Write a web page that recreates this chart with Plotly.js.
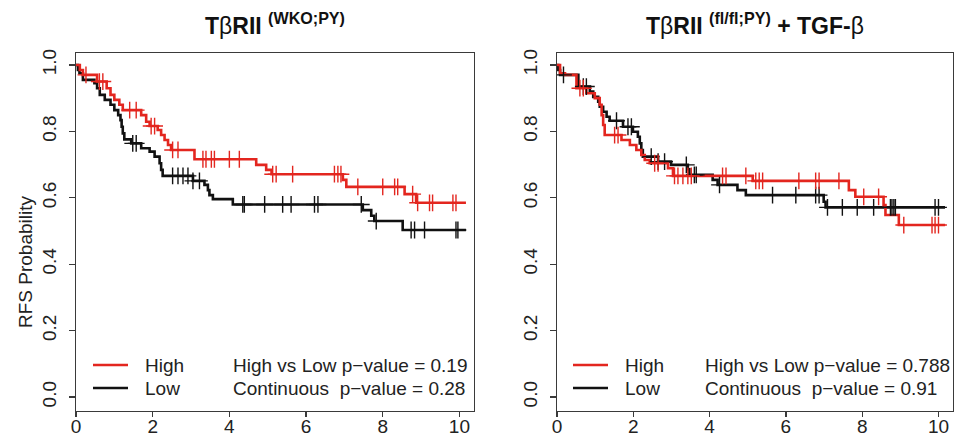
<!DOCTYPE html>
<html>
<head>
<meta charset="utf-8">
<script src="https://cdn.plot.ly/plotly-3.0.1.min.js"></script>
<style>html,body{margin:0;padding:0;background:#fff;}#chart{width:956px;height:440px;}</style>
</head>
<body>
<div id="chart"></div>
<script>
// ---------- DATA ----------
// Panel A: TβRII (WKO;PY)
const highTimeA  = [0, 0.10, 0.18, 0.55, 0.80, 0.90, 1.00, 1.13, 1.22, 1.70, 1.83, 1.92, 2.13, 2.22, 2.31, 2.40, 2.48, 3.09, 4.70, 4.96, 5.10, 6.96, 7.05, 8.57, 8.87, 10.17];
const highSurvA  = [1.0, 0.985, 0.970, 0.950, 0.930, 0.910, 0.895, 0.880, 0.864, 0.849, 0.829, 0.816, 0.804, 0.789, 0.774, 0.759, 0.744, 0.716, 0.699, 0.684, 0.671, 0.654, 0.633, 0.611, 0.585, 0.585];
const highCensA  = [0.26, 0.61, 0.70, 1.40, 1.57, 1.96, 2.05, 2.52, 2.66, 3.31, 3.39, 3.53, 3.61, 4.00, 4.26, 5.13, 5.22, 5.65, 6.74, 6.83, 6.91, 7.35, 8.00, 8.31, 8.39, 8.78, 8.91, 9.22, 9.30, 9.83, 9.91];
const lowTimeA   = [0, 0.05, 0.09, 0.18, 0.48, 0.55, 0.62, 0.75, 0.90, 1.00, 1.10, 1.16, 1.19, 1.22, 1.26, 1.44, 1.70, 1.92, 2.05, 2.18, 2.22, 2.26, 3.05, 3.35, 3.44, 3.48, 3.57, 4.09, 7.48, 7.70, 7.78, 8.52, 10.17];
const lowSurvA   = [1.0, 0.985, 0.975, 0.955, 0.945, 0.930, 0.910, 0.895, 0.880, 0.864, 0.849, 0.834, 0.814, 0.794, 0.776, 0.764, 0.749, 0.739, 0.724, 0.704, 0.684, 0.666, 0.651, 0.639, 0.623, 0.608, 0.596, 0.580, 0.563, 0.546, 0.530, 0.503, 0.503];
const lowCensA   = [1.48, 1.57, 2.52, 2.66, 2.79, 2.92, 3.05, 3.22, 4.35, 4.39, 4.92, 5.39, 5.61, 6.22, 6.31, 7.44, 7.83, 8.74, 8.83, 9.09, 9.91, 9.96];

// Panel B: TβRII (fl/fl;PY) + TGF-β
const highTimeB  = [0, 0.08, 0.21, 0.51, 0.77, 0.99, 1.12, 1.17, 1.21, 1.25, 1.69, 1.91, 2.08, 2.21, 2.30, 2.43, 2.91, 3.04, 5.13, 7.65, 7.82, 8.56, 8.61, 8.96, 10.17];
const highSurvB  = [1.0, 0.975, 0.970, 0.930, 0.915, 0.900, 0.880, 0.849, 0.819, 0.789, 0.774, 0.759, 0.744, 0.729, 0.714, 0.704, 0.689, 0.666, 0.651, 0.623, 0.603, 0.578, 0.548, 0.518, 0.518];
const highCensB  = [0.60, 0.69, 1.51, 1.60, 2.56, 2.65, 3.08, 3.17, 3.30, 3.43, 3.52, 4.34, 4.43, 4.95, 5.21, 5.30, 5.39, 6.34, 6.78, 6.87, 7.39, 8.04, 8.43, 9.09, 9.83, 9.91, 10.00];
const lowTimeB   = [0, 0.035, 0.08, 0.56, 0.86, 0.95, 1.08, 1.12, 1.21, 1.30, 1.38, 1.73, 1.99, 2.12, 2.17, 2.21, 2.25, 2.65, 2.99, 3.43, 3.47, 4.08, 4.21, 4.73, 4.95, 6.99, 7.04, 10.17];
const lowSurvB   = [1.0, 0.985, 0.970, 0.935, 0.920, 0.904, 0.889, 0.874, 0.859, 0.844, 0.832, 0.814, 0.799, 0.784, 0.764, 0.744, 0.724, 0.709, 0.699, 0.686, 0.669, 0.654, 0.639, 0.623, 0.608, 0.588, 0.571, 0.571];
const lowCensB   = [0.17, 0.69, 0.77, 1.56, 1.86, 1.95, 2.47, 2.65, 2.82, 3.39, 3.60, 3.65, 4.26, 5.65, 6.26, 6.78, 6.87, 7.09, 7.48, 7.87, 8.30, 8.74, 8.78, 8.83, 8.87, 9.91, 10.00];

const groupLabels = ["High", "Low"];
const pTextA = ["High vs Low p\u2212value = 0.19", "Continuous  p\u2212value = 0.28"];
const pTextB = ["High vs Low p\u2212value = 0.788", "Continuous  p\u2212value = 0.91"];
const xTickVals = [0, 2, 4, 6, 8, 10];
const yTickVals = [0, 0.2, 0.4, 0.6, 0.8, 1.0];

// ---------- HELPERS ----------
function survAt(times, surv, t) {
  let s = surv[0];
  for (let i = 0; i < times.length; i++) { if (times[i] <= t) s = surv[i]; else break; }
  return s;
}
const RED = '#e3261f', BLACK = '#111111';
const FONT = 'Liberation Sans, Arial, sans-serif';

function stepTrace(t, s, color, xa, ya) {
  return {x: t, y: s, xaxis: xa, yaxis: ya, mode: 'lines', line: {shape: 'hv', color: color, width: 2.6}, showlegend: false, hoverinfo: 'skip'};
}
function censTrace(c, t, s, color, xa, ya) {
  return {x: c, y: c.map(v => survAt(t, s, v)), xaxis: xa, yaxis: ya, mode: 'markers',
    marker: {symbol: 'cross-thin', size: 12, color: color, line: {color: color, width: 1.4}},
    showlegend: false, hoverinfo: 'skip'};
}

const data = [
  stepTrace(lowTimeA, lowSurvA, BLACK, 'x', 'y'),
  stepTrace(highTimeA, highSurvA, RED, 'x', 'y'),
  censTrace(lowCensA, lowTimeA, lowSurvA, BLACK, 'x', 'y'),
  censTrace(highCensA, highTimeA, highSurvA, RED, 'x', 'y'),
  stepTrace(lowTimeB, lowSurvB, BLACK, 'x2', 'y2'),
  stepTrace(highTimeB, highSurvB, RED, 'x2', 'y2'),
  censTrace(lowCensB, lowTimeB, lowSurvB, BLACK, 'x2', 'y2'),
  censTrace(highCensB, highTimeB, highSurvB, RED, 'x2', 'y2')
];

// ---------- LAYOUT ----------
const W = 956, H = 440, MT = 53, MB = 29;
const PH = H - MT - MB;
const px = v => v / W;
const py = v => (H - MB - v) / PH;

function xAxis(domain, anchor) {
  return {domain: domain, anchor: anchor, range: [0, 10.38], tickvals: xTickVals, ticktext: xTickVals.map(String),
    showline: true, mirror: true, linecolor: '#3a3a3a', linewidth: 1.3, ticks: 'outside', ticklen: 5, tickwidth: 1.2, tickcolor: '#3a3a3a',
    ticklabelstandoff: -7, showgrid: false, zeroline: false, tickfont: {family: FONT, size: 19, color: '#222'}, fixedrange: true};
}
function yAxis(anchor) {
  return {domain: [0, 1], anchor: anchor, range: [-0.042, 1.036], tickvals: yTickVals, ticktext: yTickVals.map(v => v.toFixed(1)),
    tickangle: -90, showline: true, mirror: true, linecolor: '#3a3a3a', linewidth: 1.3, ticks: 'outside', ticklen: 6, tickwidth: 1.2, tickcolor: '#3a3a3a',
    ticklabelstandoff: 5, showgrid: false, zeroline: false, tickfont: {family: FONT, size: 19, color: '#222'}, fixedrange: true};
}

const annotations = [];
const shapes = [];
function legendBlock(lineX0, lineX1, labelX, pX, pTexts) {
  const rows = [365, 388];
  const cols = [RED, BLACK];
  rows.forEach((ry, i) => {
    shapes.push({type: 'line', xref: 'paper', yref: 'paper', x0: px(lineX0), x1: px(lineX1), y0: py(ry), y1: py(ry), line: {color: cols[i], width: 2.4}});
    annotations.push({xref: 'paper', yref: 'paper', x: px(labelX), y: py(ry), xanchor: 'left', yanchor: 'middle', showarrow: false,
      text: groupLabels[i], font: {family: FONT, size: 19, color: '#222'}});
    annotations.push({xref: 'paper', yref: 'paper', x: px(pX), y: py(ry), xanchor: 'left', yanchor: 'middle', showarrow: false,
      text: pTexts[i], font: {family: FONT, size: 19, color: '#222'}});
  });
}
legendBlock(93, 128, 143, 231, pTextA);
legendBlock(573, 608, 623, 703, pTextB);

annotations.push({xref: 'paper', yref: 'paper', x: px(275), y: py(24), xanchor: 'center', yanchor: 'middle', showarrow: false,
  text: '<b>T</b>\u03b2<b>RII <sup>(WKO;PY)</sup></b>', font: {family: FONT, size: 23, color: '#111'}});
annotations.push({xref: 'paper', yref: 'paper', x: px(755), y: py(24), xanchor: 'center', yanchor: 'middle', showarrow: false,
  text: '<b>T</b>\u03b2<b>RII <sup>(fl/fl;PY)</sup> + TGF-</b>\u03b2', font: {family: FONT, size: 23, color: '#111'}});
annotations.push({xref: 'paper', yref: 'paper', x: px(25), y: py(262), xanchor: 'center', yanchor: 'middle', showarrow: false, textangle: -90,
  text: 'RFS Probability', font: {family: FONT, size: 19, color: '#222'}});

const layout = {
  width: W, height: H, margin: {l: 0, r: 0, t: MT, b: MB, pad: 0},
  paper_bgcolor: '#ffffff', plot_bgcolor: '#ffffff', showlegend: false,
  xaxis: xAxis([px(76), px(474)], 'y'),
  yaxis: yAxis('x'),
  xaxis2: xAxis([px(557), px(953)], 'y2'),
  yaxis2: yAxis('x2'),
  annotations: annotations, shapes: shapes
};

Plotly.newPlot('chart', data, layout, {displayModeBar: false, staticPlot: true});
</script>
</body>
</html>
